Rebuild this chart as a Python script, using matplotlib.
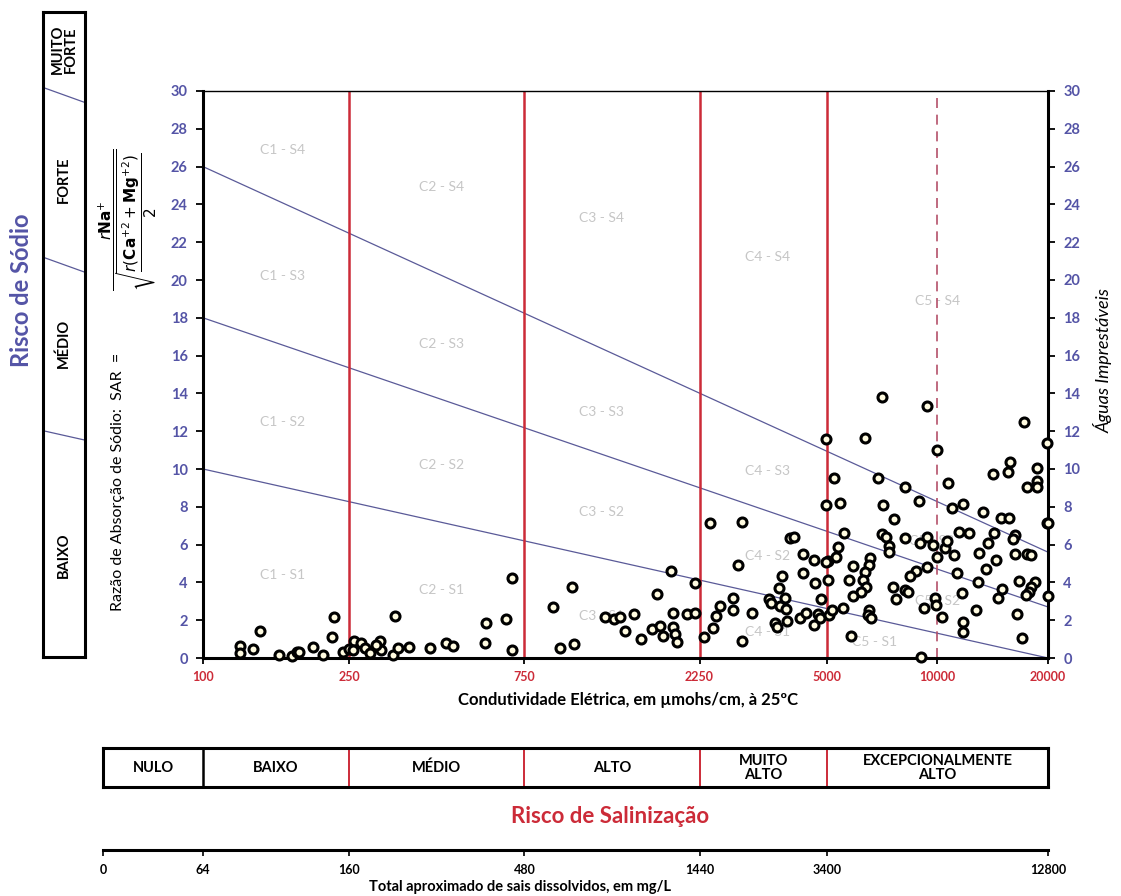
import matplotlib
matplotlib.use('Agg')
import matplotlib.pyplot as plt

plt.rcParams['font.family'] = ['Lato', 'DejaVu Sans']

W, H = 1121, 896

# ---------------- data ----------------
ec = [126, 126, 137, 143, 161, 175, 180, 183, 199, 212, 225, 228, 241, 250, 258, 269,
      256, 277, 285, 303, 305, 329, 334, 340, 364, 415, 459, 480, 586, 589, 668, 695,
      693, 296,
      1009, 895, 938, 1025, 1243, 1318, 1366, 1495, 1412, 1562, 1673, 1754, 1785, 1908,
      1908, 1926, 1959, 1720, 1880, 2085, 2192, 2192,
      2400, 2930, 3965, 4060, 2860, 4310, 4610, 4310, 4640, 5020, 5020, 3765, 3700, 3480,
      3530, 3840, 3720, 3880, 2780, 2780, 2556, 2490, 2450, 2310, 3130, 2930, 3610, 3650,
      3890, 4230, 4380, 4730, 4610, 4790, 4810, 5070,
      7050, 9380, 4970, 6345, 9945, 5225, 6900, 8150, 8920, 4980, 5420, 7120, 7610, 5575,
      7050, 7220, 8150, 7400, 7400, 8960, 9380, 9740, 9945, 5360, 5290, 4980, 5900, 5760,
      6550, 6490, 6345, 6280, 6400, 6210, 5875, 8740, 8400, 9380, 7550, 7700, 8150, 8320,
      5150, 5540, 6520, 6460, 6580, 5810, 9190, 9840, 9900, 9000,
      17220, 19820, 15720, 15560, 14200, 18660, 18660, 18660, 17540, 10700, 10940, 11750,
      13320, 14850, 15660, 19820, 20000, 11460, 12200, 14240, 13740, 16310, 16050, 16310,
      17500, 18030, 13010, 14410, 13600, 11080, 10480, 10640, 11330, 12860, 16700, 18420,
      18030, 17760, 17410, 15030, 14600, 11640, 20000, 10300, 12700, 11750, 11750, 16500,
      17000]
sar = [0.63, 0.25, 0.46, 1.44, 0.16, 0.12, 0.33, 0.33, 0.57, 0.16, 1.10, 2.15, 0.30, 0.46,
       0.90, 0.78, 0.42, 0.53, 0.25, 0.90, 0.42, 0.16, 2.22, 0.54, 0.57, 0.51, 0.81, 0.63,
       0.81, 1.87, 2.08, 4.22, 0.42, 0.69,
       3.77, 2.71, 0.53, 0.74, 2.15, 2.06, 2.15, 2.31, 1.44, 0.99, 1.52, 1.69, 1.16, 2.40,
       1.66, 1.27, 0.85, 3.37, 4.62, 2.31, 2.37, 3.95,
       7.13, 7.18, 6.33, 6.42, 4.92, 5.50, 5.19, 4.51, 3.95, 5.13, 4.13, 4.34, 3.69, 3.11,
       2.93, 3.16, 2.75, 2.58, 3.16, 2.54, 2.77, 2.22, 1.60, 1.13, 2.37, 0.90, 1.87, 1.66,
       1.97, 2.10, 2.37, 2.33, 1.75, 2.10, 3.11, 2.28,
       13.83, 13.35, 11.57, 11.62, 11.00, 9.51, 9.51, 9.03, 8.32, 8.10, 8.22, 8.10, 7.34,
       6.60, 6.56, 6.39, 6.33, 5.94, 5.59, 6.07, 6.42, 5.98, 5.36, 5.89, 5.36, 5.10, 4.87,
       4.13, 5.28, 4.92, 4.57, 4.13, 3.77, 3.48, 3.28, 4.62, 4.34, 4.80, 3.74, 3.11, 3.60,
       3.51, 2.54, 2.63, 2.54, 2.28, 2.10, 1.16, 2.63, 3.16, 2.80, 0.07,
       12.50, 11.36, 10.39, 9.86, 9.74, 10.04, 9.38, 9.03, 9.03, 9.24, 7.95, 8.15, 7.74,
       7.39, 7.39, 7.16, 7.16, 6.68, 6.60, 6.60, 6.10, 6.51, 6.28, 5.50, 5.50, 5.45, 5.57,
       5.19, 4.69, 5.45, 5.80, 6.21, 4.51, 4.01, 4.09, 4.04, 3.74, 3.51, 3.33, 3.63, 3.16,
       3.46, 3.28, 2.15, 2.54, 1.92, 1.39, 2.31, 1.04]

ec_ticks = [100, 250, 750, 2250, 5000, 10000, 20000]
sar_ticks = list(range(0, 31, 2))
salinity_bounds = [250, 750, 2250, 5000]
dashed_bound = 10000
# SAR boundary lines: SAR at EC=100 and at EC=20000
class_lines = [(26.0, 5.6), (18.0, 2.7), (10.0, 0.0)]

zone_names = ['C1 - S4', 'C2 - S4', 'C3 - S4', 'C4 - S4', 'C5 - S4',
              'C1 - S3', 'C2 - S3', 'C3 - S3', 'C4 - S3', 'C5 - S3',
              'C1 - S2', 'C2 - S2', 'C3 - S2', 'C4 - S2', 'C5 - S2',
              'C1 - S1', 'C2 - S1', 'C3 - S1', 'C4 - S1', 'C5 - S1']
zone_ec = [165, 445, 1215, 3440, 10000,
           165, 445, 1215, 3440, 9650,
           165, 445, 1215, 3440, 10000,
           165, 445, 1215, 3440, 6750]
zone_sar = [26.9, 24.9, 23.3, 21.2, 18.9,
            20.2, 16.6, 13.0, 9.9, 6.2,
            12.5, 10.2, 7.7, 5.4, 3.0,
            4.4, 3.6, 2.2, 1.4, 0.85]

salinity_classes = ['NULO', 'BAIXO', 'MÉDIO', 'ALTO', 'MUITO\nALTO', 'EXCEPCIONALMENTE\nALTO']
ec_left_edge = 53.4
salinity_edges = [ec_left_edge, 100, 250, 750, 2250, 5000, 20000]
tds_labels = ['0', '64', '160', '480', '1440', '3400', '12800']

sodium_classes = ['BAIXO', 'MÉDIO', 'FORTE', 'MUITO\nFORTE']
sodium_label_y = [5.4, 16.6, 25.3, 32.2]
sodium_dividers = [(12.0, 11.5), (21.2, 20.4), (30.2, 29.4)]

# ---------------- colours ----------------
BLUE = '#5454a6'
RED = '#cc2b38'
LINE = '#5a5a98'
GREY = '#c6c6c6'


def fx(px):
    return px / W


def fy(py):
    return 1 - py / H


fig = plt.figure(figsize=(W / 100, H / 100), dpi=100)

# ---------------- main diagram ----------------
ax = fig.add_axes([fx(203), fy(658), (1048 - 203) / W, (658 - 91) / H])
ax.set_xscale('log')
ax.set_xlim(100, 20000)
ax.set_ylim(0, 30)
ax.minorticks_off()
ax.set_xticks(ec_ticks)
ax.set_xticklabels([str(v) for v in ec_ticks], color=RED, fontweight='bold', fontsize=9)
ax.set_yticks(sar_ticks)
ax.set_yticklabels([str(v) for v in sar_ticks], color=BLUE, fontweight='bold', fontsize=10.5)
ax.tick_params(axis='x', length=4, width=1.3, pad=5)
ax.tick_params(axis='y', length=5, width=1.3, pad=6)
for s in ['left', 'bottom', 'right']:
    ax.spines[s].set_linewidth(2.2)
ax.spines['top'].set_linewidth(1.0)

ax2 = ax.twinx()
ax2.set_ylim(0, 30)
ax2.set_yticks(sar_ticks)
ax2.set_yticklabels([str(v) for v in sar_ticks], color=BLUE, fontweight='bold', fontsize=10.5)
ax2.tick_params(axis='y', length=5, width=1.3, pad=6)
for s in ax2.spines.values():
    s.set_visible(False)

for a, b in class_lines:
    ax.plot([100, 20000], [a, b], color=LINE, lw=0.9, zorder=2)

for v in salinity_bounds:
    ax.axvline(v, color=RED, lw=1.8, zorder=2)
ax.axvline(dashed_bound, color='#b4506a', lw=1.2, ls=(0, (6, 4)), zorder=2)

for name, xe, ys in zip(zone_names, zone_ec, zone_sar):
    ax.text(xe, ys, name, color=GREY, fontsize=10, ha='center', va='center', zorder=1)

ax.scatter(ec, sar, s=42, facecolors='#fffbe0', edgecolors='black', linewidths=2.2,
           zorder=5, clip_on=False)

# ---------------- left side ----------------
axs = fig.add_axes([fx(43), fy(657), 42 / W, (657 - 12) / H])
axs.set_xlim(0, 1)
axs.set_ylim(0, 34.2)
axs.set_xticks([])
axs.set_yticks([])
for s in axs.spines.values():
    s.set_linewidth(2.2)
for a, b in sodium_dividers:
    axs.plot([0, 1], [a, b], color=LINE, lw=0.9)
for name, yv in zip(sodium_classes, sodium_label_y):
    axs.text(0.5, yv, name, rotation=90, ha='center', va='center', fontsize=10.5,
             fontweight='bold', linespacing=0.9)

fig.text(fx(22), fy(290), 'Risco de Sódio', rotation=90, color=BLUE, fontsize=17,
         fontweight='bold', ha='center', va='center')
fig.text(fx(118), fy(482), 'Razão de Absorção de Sódio:  SAR  =', rotation=90,
         fontsize=11.5, ha='center', va='center')
fig.text(fx(128), fy(220),
         r'$\dfrac{r\mathbf{Na}^{+}}{\sqrt{\dfrac{r(\mathbf{Ca}^{+2}+\mathbf{Mg}^{+2})}{2}}}$',
         rotation=90, fontsize=11, ha='center', va='center')

fig.text(fx(1103), fy(360), 'Águas Imprestáveis', rotation=90, fontsize=13,
         style='italic', ha='center', va='center')

fig.text(fx(628), fy(700), 'Condutividade Elétrica, em µmohs/cm, à 25ºC', fontsize=12,
         fontweight='bold', ha='center', va='center')

# ---------------- salinity class box ----------------
axb = fig.add_axes([fx(103), fy(787), (1048 - 103) / W, (787 - 748) / H])
axb.set_xscale('log')
axb.set_xlim(ec_left_edge, 20000)
axb.set_ylim(0, 1)
axb.minorticks_off()
axb.set_xticks([])
axb.set_yticks([])
for s in axb.spines.values():
    s.set_linewidth(2.2)
for i, v in enumerate(salinity_edges[1:-1]):
    axb.axvline(v, color='black' if i == 0 else RED, lw=1.8 if i == 0 else 1.4)
for i, name in enumerate(salinity_classes):
    lo, hi = salinity_edges[i], salinity_edges[i + 1]
    mid = (lo * hi) ** 0.5
    axb.text(mid, 0.5, name, ha='center', va='center', fontsize=10.5, fontweight='bold',
             linespacing=1.0)

fig.text(fx(610), fy(816), 'Risco de Salinização', color=RED, fontsize=16,
         fontweight='bold', ha='center', va='center')

# ---------------- TDS scale ----------------
axt = fig.add_axes([fx(103), fy(850), (1048 - 103) / W, 0.0001])
axt.set_xscale('log')
axt.set_xlim(ec_left_edge, 20000)
axt.minorticks_off()
axt.set_yticks([])
for s in ['left', 'right', 'top']:
    axt.spines[s].set_visible(False)
axt.spines['bottom'].set_linewidth(2.2)
axt.set_xticks(salinity_edges)
axt.set_xticklabels(tds_labels, fontsize=9, fontweight='bold')
axt.tick_params(axis='x', length=4, width=1.2, pad=6)

fig.text(fx(520), fy(887), 'Total aproximado de sais dissolvidos, em mg/L', fontsize=10.5,
         fontweight='bold', ha='center', va='center')

fig.savefig('out.png', dpi=100)
